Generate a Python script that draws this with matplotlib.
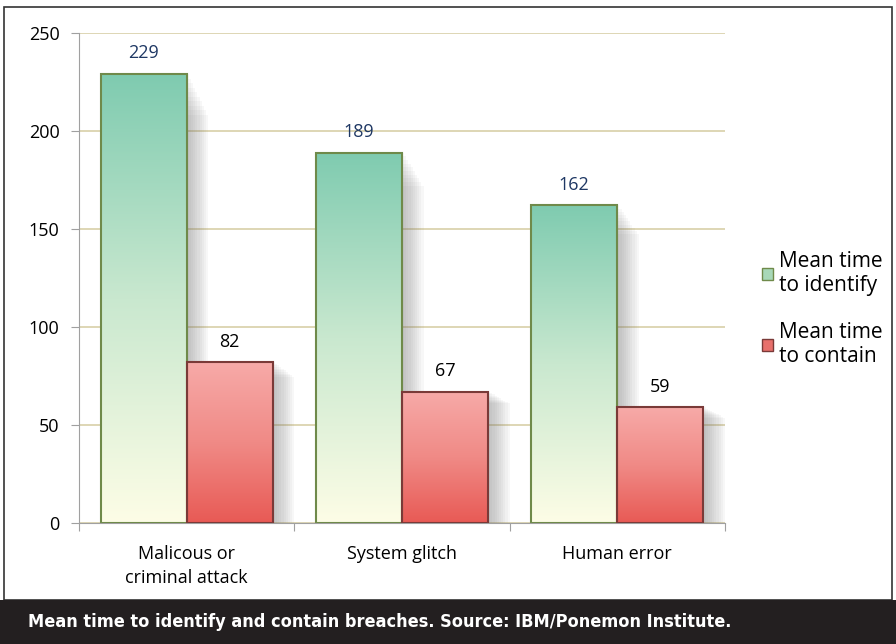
import numpy as np
import matplotlib.pyplot as plt
from matplotlib.patches import Rectangle, Patch
from matplotlib.colors import LinearSegmentedColormap

plt.rcParams['font.family'] = ['Open Sans', 'DejaVu Sans']

# Data
categories = ['Malicous or\ncriminal attack', 'System glitch', 'Human error']
identify = [229, 189, 162]
contain = [82, 67, 59]
series_names = ['Mean time\nto identify', 'Mean time\nto contain']
caption = 'Mean time to identify and contain breaches. Source: IBM/Ponemon Institute.'

green_cmap = LinearSegmentedColormap.from_list('g', ['#fdfde6', '#c9e8cf', '#7fcbb0'])
red_cmap = LinearSegmentedColormap.from_list('r', ['#e85a55', '#f08a86', '#f7aaa8'])

fig = plt.figure(figsize=(8.96, 6.44), dpi=100)
ax = fig.add_axes([79 / 896, 1 - 523 / 644, 646 / 896, 490 / 644])

x = np.arange(len(categories))
w = 0.4
grad = np.linspace(0, 1, 256).reshape(-1, 1)


def gradient_bar(x0, h, cmap, edge, label_color):
    # soft shadow on the right
    for i in range(10):
        ax.add_patch(Rectangle((x0 + w, 0), 0.01 * (i + 1), h * (1 - 0.01 * i),
                               facecolor='#707070', alpha=0.05, lw=0, zorder=2))
    ax.imshow(grad, cmap=cmap, origin='lower', aspect='auto',
              extent=(x0, x0 + w, 0, h), zorder=3)
    ax.add_patch(Rectangle((x0, 0), w, h, fill=False, edgecolor=edge, lw=1.5, zorder=4))
    ax.text(x0 + w / 2, h + 6, str(h), ha='center', va='bottom', fontsize=13,
            color=label_color, zorder=5)


for i in range(len(categories)):
    gradient_bar(x[i] - w, identify[i], green_cmap, '#6f8a4a', '#1f3864')
    gradient_bar(x[i], contain[i], red_cmap, '#7a3a38', 'black')

ax.set_xlim(-0.5, 2.5)
ax.set_ylim(0, 250)
ax.set_yticks(np.arange(0, 251, 50))
ax.yaxis.grid(True, color='#d8cfa8', lw=1.2)
ax.set_axisbelow(True)
ax.set_xticks([-0.5, 0.5, 1.5, 2.5])
ax.set_xticklabels([])
ax.set_xticks(x, minor=True)
ax.set_xticklabels(categories, minor=True, fontsize=13, linespacing=1.4)
ax.tick_params(axis='x', which='minor', length=0, pad=16)
ax.tick_params(axis='x', which='major', length=6, color='#a0a0a0', direction='out')
ax.tick_params(axis='y', length=6, color='#a0a0a0', labelsize=13, pad=8)
for s in ['top', 'right']:
    ax.spines[s].set_visible(False)
for s in ['left', 'bottom']:
    ax.spines[s].set_color('#a0a0a0')

handles = [Patch(facecolor='#a8d8b8', edgecolor='#6f8a4a'),
           Patch(facecolor='#e8706c', edgecolor='#7a3a38')]
fig.legend(handles, series_names, loc='upper left', bbox_to_anchor=(743 / 896, 1 - 232 / 644),
           frameon=False, fontsize=15, handlelength=0.55, handleheight=0.55,
           handletextpad=0.3, labelspacing=1.25)

# outer frame and caption band
fig.patches.append(Rectangle((4 / 896, 1 - 600 / 644), 888 / 896, 593 / 644,
                             transform=fig.transFigure, fill=False, edgecolor='#333333', lw=1.2))
fig.patches.append(Rectangle((0, 0), 1, 44 / 644, transform=fig.transFigure,
                             facecolor='#231f20', edgecolor='none'))
fig.text(28 / 896, 22 / 644, caption, color='white', fontsize=13, fontweight='bold',
         va='center', ha='left', family=['DejaVu Sans'], fontstretch='condensed')

fig.savefig('out.png', dpi=100)
